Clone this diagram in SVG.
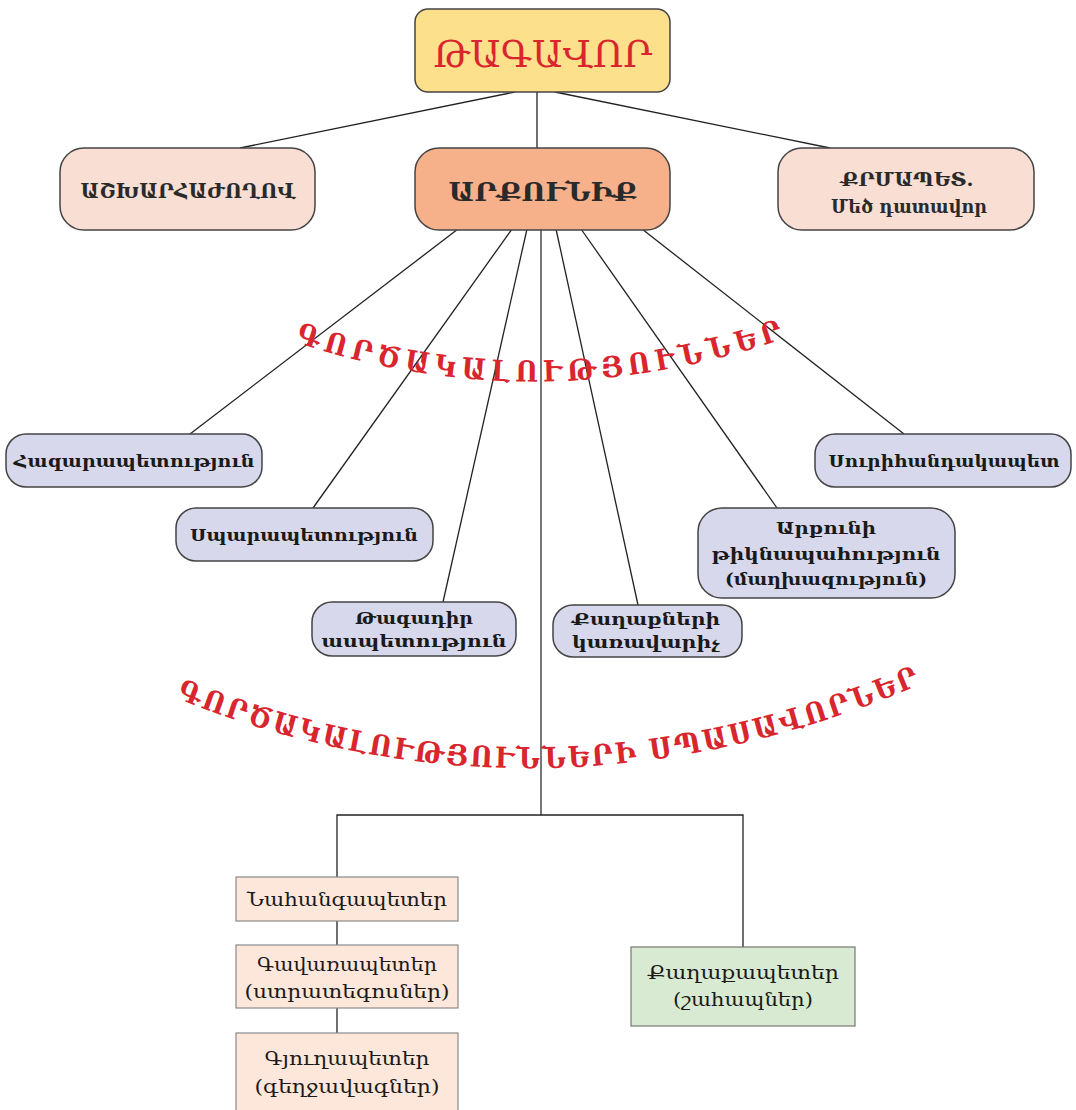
<svg xmlns="http://www.w3.org/2000/svg" width="1076" height="1110" viewBox="0 0 1076 1110">
<style>
.cond{font-family:"DejaVu Serif Condensed","DejaVu Serif",serif;font-stretch:condensed;font-weight:bold;text-anchor:middle;fill:#2a2a2a}
.bold{font-family:"DejaVu Serif",serif;font-weight:bold;font-size:17px;text-anchor:middle;fill:#1a1a1a}
.reg{font-family:"DejaVu Serif",serif;font-size:19px;text-anchor:middle;fill:#1a1a1a}
.arc{font-family:"DejaVu Serif Condensed","DejaVu Serif",serif;font-stretch:condensed;font-weight:bold;font-size:29px;fill:#d9262e}
.lav{fill:#d7d8ec;stroke:#444;stroke-width:1.5}
.peach{fill:#fde7da;stroke:#8a8a8a;stroke-width:1.2}
.conn line,.conn polyline{stroke:#222;stroke-width:1.3;fill:none}
</style>
<defs>
<path id="arc1" d="M 295 342 Q 540 424 792 336"/>
<path id="arc2" d="M 176 698 Q 545 846 926 682"/>
</defs>
<rect width="1076" height="1110" fill="#fff"/>
<g class="conn" id="connectors">
<line x1="515" y1="92" x2="240" y2="148"/>
<line x1="537" y1="92" x2="537" y2="148"/>
<line x1="555" y1="92" x2="830" y2="148"/>
<line x1="458" y1="229" x2="190" y2="434"/>
<line x1="512" y1="229" x2="313" y2="508"/>
<line x1="527" y1="229" x2="443" y2="602"/>
<line x1="556" y1="229" x2="638" y2="605"/>
<line x1="581" y1="229" x2="777" y2="508"/>
<line x1="642" y1="229" x2="904" y2="434"/>
<line x1="541" y1="229" x2="541" y2="815" style="stroke:#555;stroke-width:1.6"/>
<polyline points="337,877 337,815 743,815 743,947"/>
<line x1="337" y1="921" x2="337" y2="945"/>
<line x1="337" y1="1008" x2="337" y2="1033"/>
</g>
<g id="n-tagavor">
<rect x="415" y="9" width="255" height="83" rx="13" fill="#fde08c" stroke="#444" stroke-width="1.5"/>
<text class="cond" x="543" y="67" font-size="38" style="fill:#d9262e;font-weight:normal" textLength="219" lengthAdjust="spacingAndGlyphs">ԹԱԳԱՎՈՐ</text>
</g>
<g id="n-ashkharhazhoghov">
<rect x="60" y="148" width="255" height="82" rx="24" fill="#f9ded3" stroke="#444" stroke-width="1.5"/>
<text class="cond" x="188" y="198" font-size="21" textLength="215" lengthAdjust="spacingAndGlyphs">ԱՇԽԱՐՀԱԺՈՂՈՎ</text>
</g>
<g id="n-arqunik">
<rect x="415" y="148" width="255" height="82" rx="24" fill="#f6b08a" stroke="#444" stroke-width="1.5"/>
<text class="cond" x="543" y="201" font-size="26" textLength="189" lengthAdjust="spacingAndGlyphs">ԱՐՔՈՒՆԻՔ</text>
</g>
<g id="n-qrmapet">
<rect x="778" y="148" width="256" height="82" rx="24" fill="#f9ded3" stroke="#444" stroke-width="1.5"/>
<text class="cond" x="907" y="186" font-size="19" textLength="133" lengthAdjust="spacingAndGlyphs">ՔՐՄԱՊԵՏ.</text>
<text class="cond" x="909" y="213" font-size="19" textLength="156" lengthAdjust="spacingAndGlyphs">Մեծ դատավոր</text>
</g>
<g id="n-hazarapetutyun">
<rect class="lav" x="6" y="434" width="256" height="53" rx="20"/>
<text class="bold" x="134" y="467" textLength="241" lengthAdjust="spacingAndGlyphs">Հազարապետություն</text>
</g>
<g id="n-sparapetutyun">
<rect class="lav" x="176" y="508" width="257" height="53" rx="20"/>
<text class="bold" x="304" y="541" textLength="228" lengthAdjust="spacingAndGlyphs">Սպարապետություն</text>
</g>
<g id="n-tagadir">
<rect class="lav" x="312" y="602" width="204" height="54" rx="20"/>
<text class="bold" x="414" y="624" textLength="118" lengthAdjust="spacingAndGlyphs">Թագադիր</text>
<text class="bold" x="414" y="647" textLength="185" lengthAdjust="spacingAndGlyphs">ասպետություն</text>
</g>
<g id="n-qaghaqneri">
<rect class="lav" x="553" y="605" width="189" height="52" rx="20"/>
<text class="bold" x="646" y="625" textLength="148" lengthAdjust="spacingAndGlyphs">Քաղաքների</text>
<text class="bold" x="646" y="648" textLength="148" lengthAdjust="spacingAndGlyphs">կառավարիչ</text>
</g>
<g id="n-arqunithikn">
<rect class="lav" x="698" y="508" width="257" height="90" rx="24"/>
<text class="bold" x="826" y="534" textLength="100" lengthAdjust="spacingAndGlyphs">Արքունի</text>
<text class="bold" x="826" y="560" textLength="229" lengthAdjust="spacingAndGlyphs">թիկնապահություն</text>
<text class="bold" x="826" y="585" textLength="202" lengthAdjust="spacingAndGlyphs">(մաղխազություն)</text>
</g>
<g id="n-surhandak">
<rect class="lav" x="815" y="434" width="256" height="53" rx="20"/>
<text class="bold" x="944" y="467" textLength="231" lengthAdjust="spacingAndGlyphs">Սուրիհանդակապետ</text>
</g>
<g id="n-nahangapeter">
<rect class="peach" x="236" y="877" width="222" height="44"/>
<text class="reg" x="347" y="906" textLength="200" lengthAdjust="spacingAndGlyphs">Նահանգապետեր</text>
</g>
<g id="n-gavarapeter">
<rect class="peach" x="236" y="945" width="222" height="63"/>
<text class="reg" x="347" y="971" textLength="180" lengthAdjust="spacingAndGlyphs">Գավառապետեր</text>
<text class="reg" x="347" y="998" textLength="205" lengthAdjust="spacingAndGlyphs">(ստրատեգոսներ)</text>
</g>
<g id="n-gyughapeter">
<rect class="peach" x="236" y="1033" width="222" height="80"/>
<text class="reg" x="347" y="1065" textLength="165" lengthAdjust="spacingAndGlyphs">Գյուղապետեր</text>
<text class="reg" x="347" y="1093" textLength="185" lengthAdjust="spacingAndGlyphs">(գեղջավագներ)</text>
</g>
<g id="n-qaghaqapeter">
<rect x="631" y="947" width="224" height="79" fill="#d9ead3" stroke="#777" stroke-width="1.2"/>
<text class="reg" x="743" y="979" textLength="192" lengthAdjust="spacingAndGlyphs">Քաղաքապետեր</text>
<text class="reg" x="743" y="1006" textLength="140" lengthAdjust="spacingAndGlyphs">(շահապներ)</text>
</g>
<g id="arc-labels">
<text class="arc"><textPath href="#arc1" startOffset="0" textLength="498" lengthAdjust="spacing">ԳՈՐԾԱԿԱԼՈՒԹՅՈՒՆՆԵՐ</textPath></text>
<text class="arc"><textPath href="#arc2" startOffset="0" textLength="765" lengthAdjust="spacing">ԳՈՐԾԱԿԱԼՈՒԹՅՈՒՆՆԵՐԻ ՍՊԱՍԱՎՈՐՆԵՐ</textPath></text>
</g>
</svg>
